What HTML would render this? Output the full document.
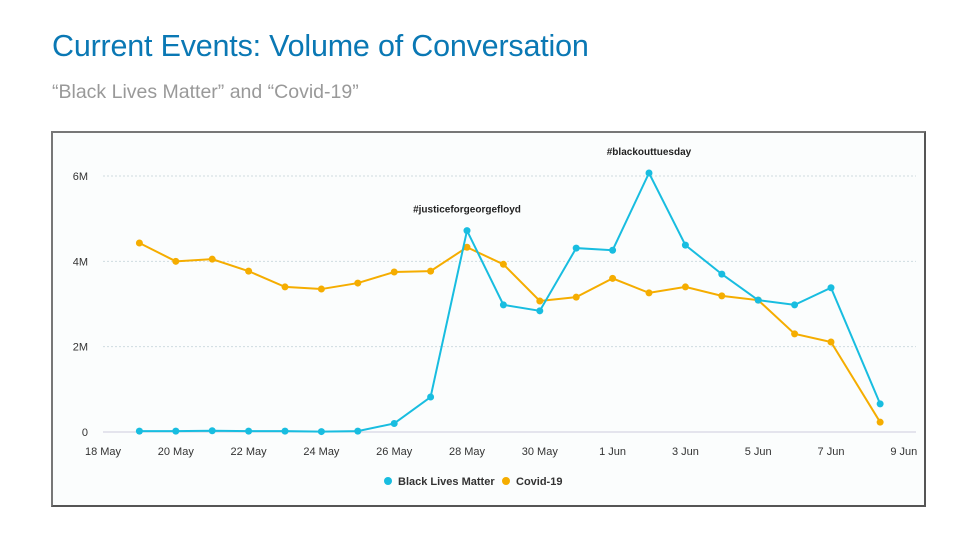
<!DOCTYPE html>
<html><head><meta charset="utf-8">
<style>
body{margin:0;width:979px;height:547px;background:#fff;font-family:"Liberation Sans",sans-serif;overflow:hidden;position:relative}
#title{position:absolute;left:52px;top:29px;font-size:30.5px;color:#0a78b4;letter-spacing:-0.2px}
#sub{position:absolute;left:52px;top:81px;font-size:19.5px;color:#999}
#box{position:absolute;left:51px;top:131px;width:871px;height:372px;border:2px solid #555;border-top-color:#777;border-left-color:#777;background:#fbfdfd}
svg{position:absolute;left:0;top:0}
</style></head><body>
<div id="title">Current Events: Volume of Conversation</div>
<div id="sub">“Black Lives Matter” and “Covid-19”</div>
<div id="box"></div>
<svg id="chart" width="979" height="547"></svg>
<script>
const dayOffsets=[1,2,3,4,5,6,7,8,9,10,11,12,13,14,15,16,17,18,19,20,21.35];
const blmValues=[0.02,0.02,0.03,0.02,0.02,0.01,0.02,0.2,0.82,4.72,2.98,2.84,4.31,4.26,6.07,4.38,3.7,3.09,2.98,3.38,0.66];
const covidValues=[4.43,4.0,4.05,3.77,3.4,3.35,3.49,3.75,3.77,4.33,3.93,3.07,3.16,3.6,3.26,3.4,3.19,3.09,2.3,2.11,0.23];
const yTicks=[0,2,4,6];
const yTickLabels=["0","2M","4M","6M"];
const xTickDays=[0,2,4,6,8,10,12,14,16,18,20,22];
const xTickLabels=["18 May","20 May","22 May","24 May","26 May","28 May","30 May","1 Jun","3 Jun","5 Jun","7 Jun","9 Jun"];
const annotations=[{day:10,val:4.72,text:"#justiceforgeorgefloyd"},{day:15,val:6.07,text:"#blackouttuesday"}];
const NS="http://www.w3.org/2000/svg";
const svg=document.getElementById('chart');
const x=d=>103+d*36.4, y=v=>432-v*42.67;
function mk(t,a){const e=document.createElementNS(NS,t);for(const k in a)e.setAttribute(k,a[k]);svg.appendChild(e);return e;}
yTicks.forEach((t,i)=>{
 const g=mk('line',{x1:103,x2:916,y1:y(t),y2:y(t),stroke:t===0?'#ccd':'#cfdbe0','stroke-dasharray':t===0?'':'2,2'});
 
 
 const l=mk('text',{x:88,y:y(t)+4,'text-anchor':'end','font-size':11,fill:'#333'});l.textContent=yTickLabels[i];
 
 
});
xTickDays.forEach((d,i)=>{
 const l=mk('text',{x:x(d),y:455,'text-anchor':'middle','font-size':11,fill:'#333'});l.textContent=xTickLabels[i];
 
 
});
function series(vals,color,name){
 const p=mk('polyline',{points:vals.map((v,i)=>x(dayOffsets[i])+','+y(v)).join(' '),fill:'none',stroke:color,'stroke-width':2});
 
 
 vals.forEach((v,i)=>{const c=mk('circle',{cx:x(dayOffsets[i]),cy:y(v),r:3.5,fill:color});
  
  });
}
series(covidValues,'#f5ad00','covid-19');
series(blmValues,'#18bde0','black-lives-matter');
annotations.forEach(a=>{const t=mk('text',{x:x(a.day),y:y(a.val)-18,'text-anchor':'middle','font-size':10,'font-weight':'bold',fill:'#222'});t.textContent=a.text;
 
 });
[[388,'#18bde0','Black Lives Matter'],[506,'#f5ad00','Covid-19']].forEach(([lx,c,txt])=>{
 const dot=mk('circle',{cx:lx,cy:481,r:4,fill:c});
 
 
 const t=mk('text',{x:lx+10,y:485,'font-size':11,'font-weight':'bold',fill:'#333'});t.textContent=txt;
 
 
});
</script>
</body></html>
